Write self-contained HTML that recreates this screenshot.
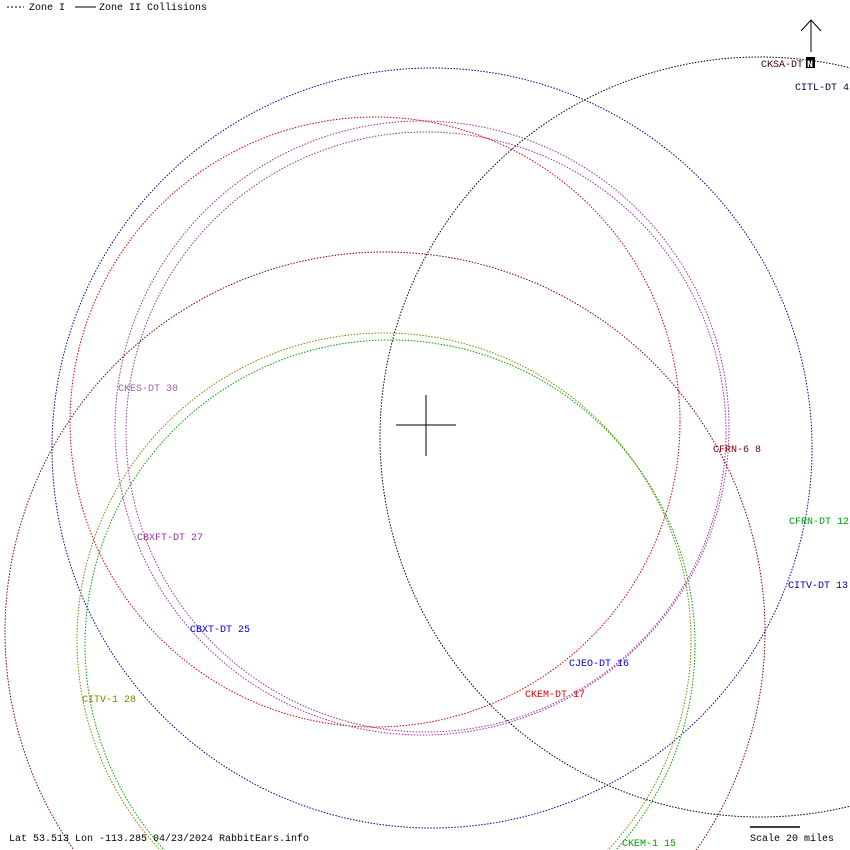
<!DOCTYPE html>
<html><head><style>
html,body{margin:0;background:#fff;width:850px;height:850px;overflow:hidden}
svg{display:block}
text{font-family:"Liberation Mono",monospace;font-size:10px}
</style></head><body>
<svg width="850" height="850" xmlns="http://www.w3.org/2000/svg">
<g fill="none" stroke-width="1" stroke-dasharray="1.5 1.5">
<circle cx="432" cy="448" r="380" stroke="#0000a0"/>
<circle cx="375" cy="422" r="305" stroke="#e00000"/>
<circle cx="422" cy="428" r="307" stroke="#a030a0"/>
<circle cx="426" cy="432" r="300" stroke="#a030a0"/>
<circle cx="385" cy="632" r="380" stroke="#800000"/>
<circle cx="384" cy="640" r="307" stroke="#808000"/>
<circle cx="390" cy="645" r="305" stroke="#00a000"/>
<circle cx="760" cy="437" r="380" stroke="#000"/>
</g>
<g stroke="#000">
<line x1="396" y1="425" x2="456" y2="425"/>
<line x1="426" y1="395" x2="426" y2="456"/>
<line x1="811" y1="20" x2="811" y2="52"/>
<polyline points="801,31 811,20 821,31" fill="none"/>
<line x1="750" y1="827" x2="800" y2="827" stroke-width="1.5"/>
<line x1="7" y1="7" x2="24" y2="7" stroke-dasharray="2 2"/>
<line x1="75" y1="7" x2="96" y2="7"/>
</g>
<text x="29" y="10">Zone I</text>
<text x="99" y="10">Zone II Collisions</text>
<rect x="806" y="57" width="9" height="11" fill="#000"/>
<text x="807" y="67" fill="#fff" font-weight="bold">N</text>
<text x="761" y="67" fill="#400000">CKSA-DT</text>
<text x="795" y="90" fill="#000040">CITL-DT 4</text>
<text x="118" y="391" fill="#a060a0">CKES-DT 30</text>
<text x="713" y="452" fill="#800000">CFRN-6 8</text>
<text x="789" y="524" fill="#00a000">CFRN-DT 12</text>
<text x="137" y="540" fill="#a030a0">CBXFT-DT 27</text>
<text x="788" y="588" fill="#0000a0">CITV-DT 13</text>
<text x="190" y="632" fill="#0000e0">CBXT-DT 25</text>
<text x="569" y="666" fill="#0000e0">CJEO-DT 16</text>
<text x="525" y="697" fill="#e00000">CKEM-DT 17</text>
<text x="82" y="702" fill="#808000">CITV-1 28</text>
<text x="9" y="841">Lat 53.513 Lon -113.285 04/23/2024 RabbitEars.info</text>
<text x="622" y="846" fill="#00a000">CKEM-1 15</text>
<text x="750" y="841">Scale 20 miles</text>
</svg>
</body></html>
